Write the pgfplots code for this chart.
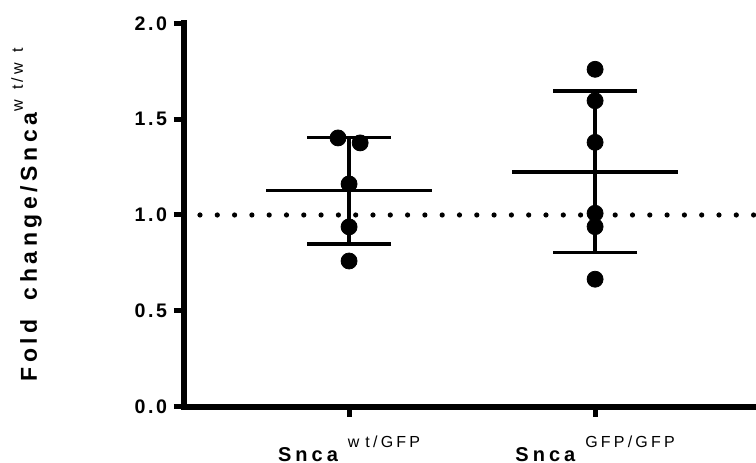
\documentclass[border=0pt]{standalone}
\usepackage{fontspec}
\setmainfont{Liberation Sans}
\newfontfamily\lblfont[LetterSpace=20]{Liberation Sans}
\newfontfamily\tckfont[LetterSpace=13]{Liberation Sans}
\newfontfamily\supfont[LetterSpace=20]{Liberation Sans}
\usepackage{pgfplots}
\pgfplotsset{compat=1.18}

% bold tracked label text, and the small raised genotype
\newcommand{\lbl}[1]{{\fontsize{10pt}{12pt}\lblfont\bfseries #1}}
\newcommand{\ylbl}[1]{{\fontsize{11.5pt}{13pt}\lblfont\bfseries #1}}
\newcommand{\supr}[1]{\hspace{5pt}\raisebox{6.8pt}{\fontsize{8pt}{9pt}\supfont #1}}
\newcommand{\ysupr}[1]{\hspace{0.5pt}\raisebox{7pt}{\fontsize{8pt}{9pt}\supfont #1}}

\begin{document}
\begin{tikzpicture}
\begin{axis}[
    scale only axis,
    width=286pt, height=191.7pt,
    xmin=0.329, xmax=2.654,
    ymin=0, ymax=2,
    axis x line*=bottom, axis y line*=left,
    x axis line style={-, line width=3pt},
    y axis line style={-, line width=3pt, line cap=rect},
    tick align=outside,
    major tick length=5pt,
    tick style={line width=2.5pt, black},
    minor tick num=0,
    ytick={0,0.5,1,1.5,2},
    yticklabel style={font=\fontsize{9.8pt}{11pt}\tckfont\bfseries,
        /pgf/number format/.cd, fixed, fixed zerofill, precision=1, assume math mode=true},
    xtick={1,2},
    xticklabels={{\lbl{Snca}\supr{w\kern3pt t/GFP}}, {\lbl{Snca}\supr{GFP/GFP}}},
    xticklabel style={anchor=north, inner sep=0pt, yshift=-9.5pt},
    ylabel={\ylbl{Fold\hspace{4pt} change/Snca}\ysupr{w\kern5pt t/w\kern5pt t}},
    ylabel style={at={(axis description cs:-0.248,0.5)}, anchor=south, inner sep=0pt},
]

% reference line at 1.0
\addplot[black, line width=2.6pt, line cap=round, dash pattern=on 0pt off 8.65pt]
    coordinates {(0.394,1) (2.654,1)};

% means
\addplot[black, line width=1.7pt] coordinates {(0.663,1.1276) (1.337,1.1276)};
\addplot[black, line width=1.7pt] coordinates {(1.663,1.2247) (2.337,1.2247)};

% mean +- SD
\pgfplotsset{sdbar/.style={black, line width=1.7pt, mark=none,
    error bars/.cd, y dir=both, y explicit, error mark=|,
    error bar style={line width=1.7pt, black},
    error mark options={line width=1.7pt, black, mark size=21pt}}}
\addplot[sdbar] coordinates {(1,1.1276) +- (0,0.278)};
\addplot[sdbar] coordinates {(2,1.2247) +- (0,0.4218)};

% individual animals
\addplot[only marks, mark=*, mark size=4pt, black] coordinates {
    (0.955,1.402) (1.045,1.376) (1,1.162) (1,0.938) (1,0.760)
};
\addplot[only marks, mark=*, mark size=4pt, black] coordinates {
    (2,1.760) (2,1.596) (2,1.379) (2,1.009) (2,0.939) (2,0.665)
};
\end{axis}
\pgfresetboundingbox
\path[use as bounding box] ([xshift=-92pt,yshift=-28.15pt]current axis.south west)
    rectangle ([yshift=11.65pt]current axis.north east);
\end{tikzpicture}
\end{document}
